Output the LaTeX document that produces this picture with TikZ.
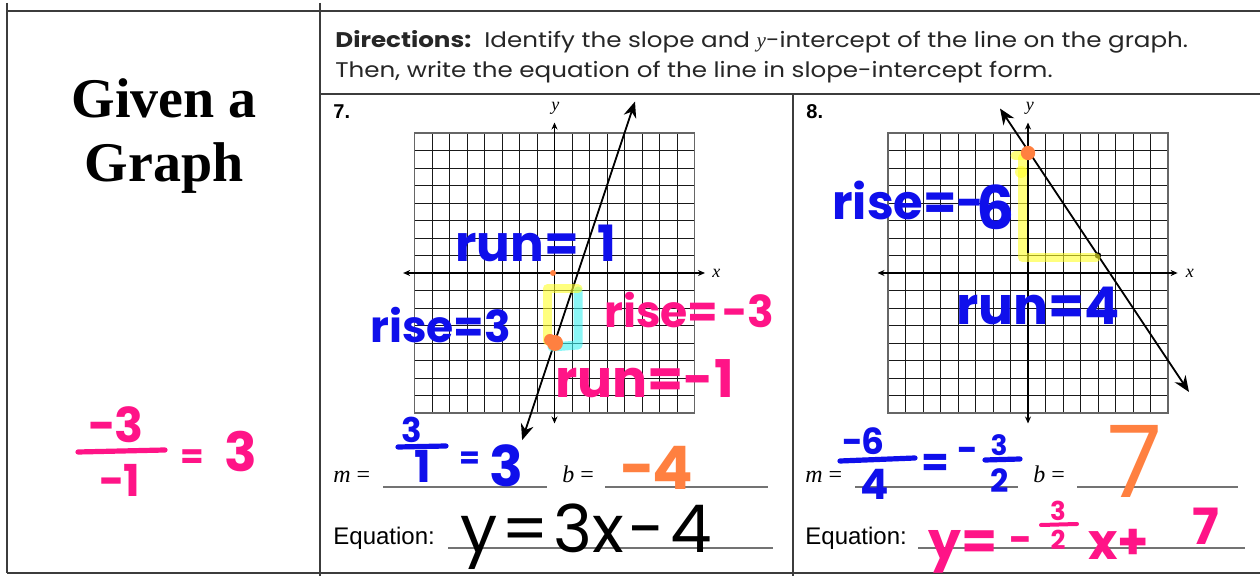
\documentclass[tikz,border=0pt]{standalone}
\usepackage{fontspec}
\setmainfont{Liberation Serif}
\newfontfamily\handf{Poppins}
\newfontfamily\dirf[FakeStretch=1.16]{Poppins}
\newfontfamily\arialf{Liberation Sans}
\newfontfamily\serf{Liberation Serif}
\usetikzlibrary{arrows.meta}
\definecolor{mblue}{RGB}{15,15,235}
\definecolor{mpink}{RGB}{255,20,135}
\definecolor{morange}{RGB}{255,128,64}
\definecolor{myellow}{RGB}{255,255,40}
\definecolor{mcyan}{RGB}{60,240,240}
\definecolor{tline}{RGB}{60,60,60}
\newcommand{\fsz}[1]{\fontsize{#1}{#1}\selectfont}
\begin{document}
\begin{tikzpicture}[x=0.5pt,y=-0.5pt,
  hb/.style={font=\handf\bfseries, inner sep=0pt, text=mblue},
  hp/.style={font=\handf\bfseries, inner sep=0pt, text=mpink},
  ho/.style={font=\handf\bfseries, inner sep=0pt, text=morange},
  hor/.style={font=\handf, inner sep=0pt, text=morange},
  hk/.style={font=\handf, inner sep=0pt, text=black},
  tb/.style={draw=tline, line width=0.8pt},
  blank/.style={draw=black!55, line width=0.6pt},
  gridl/.style={line width=0.45pt, draw=black!90},
  mk/.style={line width=2.6pt, line cap=round},
  hl/.style={line width=4.5pt, line cap=round, line join=round, opacity=0.6},
  axarr/.style={line width=0.8pt, {Stealth[length=3.5pt,width=3pt]}-{Stealth[length=3.5pt,width=3pt]}},
  linarr/.style={line width=0.9pt, {Stealth[length=8pt,width=6.5pt]}-{Stealth[length=8pt,width=6.5pt]}},
  lab/.style={inner sep=0pt, anchor=base west}]
\useasboundingbox (0,0) rectangle (1260,576);
\fill[white] (0,0) rectangle (1260,576);

% ---------- table ----------
\coordinate (tl) at (7,11); \coordinate (tr) at (1260,11);
\coordinate (bl) at (7,573); \coordinate (br) at (1260,573);
\coordinate (lt) at (7,3); \coordinate (c1t) at (320,3); \coordinate (c1b) at (320,576);
\coordinate (d1) at (320,94); \coordinate (d2) at (1260,94);
\coordinate (c2t) at (793,94); \coordinate (c2b) at (793,576);
\draw[tb] (tl) -- (tr);
\draw[tb] (bl) -- (br);
\draw[tb] (lt) -- (bl);
\draw[tb] (c1t) -- (c1b);
\draw[tb] (d1) -- (d2);
\draw[tb] (c2t) -- (c2b);

% ---------- left column ----------
\node[inner sep=0pt, anchor=base, font=\serf\bfseries\fsz{28pt}] (given) at (164,118) {Given a};
\node[inner sep=0pt, anchor=base, font=\serf\bfseries\fsz{28pt}] (graph) at (164,182) {Graph};
\node[hp, anchor=base] (lnum) at (116,443) {\fsz{24pt}−3};
\coordinate (lb1) at (78,452); \coordinate (lb2) at (165,450);
\draw[mk, mpink] (lb1) -- (lb2);
\node[hp, anchor=base] (lden) at (120,497) {\fsz{22pt}−1};
\node[hp] (leq) at (192,459) {\fsz{17pt}=};
\node[hp, anchor=base west] (lres) at (224,472) {\fsz{27pt}3};

% ---------- directions ----------
\node[lab, font=\dirf\fsz{10.6pt}, text=black!85] (dir1) at (335,48) {{\bfseries Directions:}\ \ Identify the slope and {\serf\itshape y}-intercept of the line on the graph.};
\node[lab, font=\dirf\fsz{10.6pt}, text=black!85] (dir2) at (335,78) {Then, write the equation of the line in slope-intercept form.};

\node[lab, font=\arialf\bfseries\fsz{10pt}] (n7) at (333,119) {7.};
\node[lab, font=\arialf\bfseries\fsz{10pt}] (n8) at (806,119) {8.};

% ---------- graph 7 ----------
\begin{scope}[shift={(554.5,273)}, x=8.75pt, y=8.75pt]
  \foreach \i in {-8,...,8} {
    \draw[gridl] (\i,-8) -- (\i,8);
    \draw[gridl] (-8,\i) -- (8,\i);
  }
  \draw[line width=0.9pt, draw=black!60] (-8,-8) rectangle (8,8);
  \coordinate (xa1) at (-8.65,0); \coordinate (xb1) at (8.6,0);
  \coordinate (ya1) at (0,-8.6); \coordinate (yb1) at (0,8.6);
  \draw[axarr] (xa1) -- (xb1);
  \draw[axarr] (ya1) -- (yb1);
  \node[font=\serf\itshape\fsz{9pt}, inner sep=0pt] (xl1) at (9.25,-0.05) {x};
  \node[font=\serf\itshape\fsz{9pt}, inner sep=0pt] (yl1) at (0.05,9.4) {y};
  \coordinate (la1) at (-1.85,-9.55); \coordinate (lb1g) at (4.6,9.8);
  \draw[linarr] (la1) -- (lb1g);
\end{scope}

% highlights graph 7
\coordinate (cy1) at (578,291); \coordinate (cy2) at (578,345); \coordinate (cy3) at (552,347);
\draw[hl, mcyan] (cy1) -- (cy2) -- (cy3);
\coordinate (ye1) at (578,289); \coordinate (ye2) at (547,289); \coordinate (ye3) at (547,341);
\draw[hl, myellow] (ye1) -- (ye2) -- (ye3);
\fill[morange] (555,343) circle (4pt);
\fill[morange] (550,340) circle (3pt);
\fill[morange] (553,273) circle (1.5pt);

% handwriting graph 7
\node[hb, anchor=base west] (run1) at (455,262) {\fsz{25pt}run=\kern9pt 1};
\node[hb, anchor=base west] (rise1) at (370,343) {\fsz{22pt}rise=3};
\node[hp, anchor=base west] (rise2) at (604,328) {\fsz{22pt}rise=\kern2pt-3};
\node[hp, anchor=base west] (run2) at (555,398) {\fsz{26pt}run=-1};

% answers graph 7
\node[lab, font=\serf\fsz{12pt}] (m7) at (333,483) {\textit{m} =};
\coordinate (m7a) at (383,487); \coordinate (m7b) at (547,487);
\draw[blank] (m7a) -- (m7b);
\node[lab, font=\serf\fsz{12pt}] (b7) at (562,483) {\textit{b} =};
\coordinate (b7a) at (605,487); \coordinate (b7b) at (768,487);
\draw[blank] (b7a) -- (b7b);
\node[lab, font=\arialf\fsz{12pt}] (e7) at (333,545) {Equation:};
\coordinate (e7a) at (448,548); \coordinate (e7b) at (773,548);
\draw[blank] (e7a) -- (e7b);

\node[hb, anchor=base] (f7n) at (412,443) {\fsz{17pt}3};
\coordinate (f7a) at (398,447); \coordinate (f7b) at (446,446);
\draw[mk, mblue] (f7a) -- (f7b);
\node[hb, anchor=base] (f7d) at (423,483) {\fsz{22pt}1};
\node[hb] (f7e) at (470,460) {\fsz{15pt}=};
\node[hb, anchor=base west] (f7r) at (489,487) {\fsz{28pt}3};
\node[ho, anchor=base west] (bv7) at (620,490) {\fsz{30pt}−4};
\node[hk, anchor=base west] (eq7) at (460,553) {\fsz{33pt}y\kern2pt=\kern2pt3x\kern2pt−\kern3pt4};

% ---------- graph 8 ----------
\begin{scope}[shift={(1028,273)}, x=8.75pt, y=8.75pt]
  \foreach \i in {-8,...,8} {
    \draw[gridl] (\i,-8) -- (\i,8);
    \draw[gridl] (-8,\i) -- (8,\i);
  }
  \draw[line width=0.9pt, draw=black!60] (-8,-8) rectangle (8,8);
  \coordinate (xa2) at (-8.6,0); \coordinate (xb2) at (8.55,0);
  \coordinate (ya2) at (0,-8.6); \coordinate (yb2) at (0,8.6);
  \draw[axarr] (xa2) -- (xb2);
  \draw[axarr] (ya2) -- (yb2);
  \node[font=\serf\itshape\fsz{9pt}, inner sep=0pt] (xl2) at (9.25,-0.05) {x};
  \node[font=\serf\itshape\fsz{9pt}, inner sep=0pt] (yl2) at (0.1,9.4) {y};
  \coordinate (la2) at (-1.6,9.4); \coordinate (lb2g) at (9.2,-6.8);
  \draw[linarr] (la2) -- (lb2g);
  \fill[black] (4,1) circle (1.6pt);
\end{scope}

% highlights graph 8
\coordinate (yl1) at (1022,158); \coordinate (yl2) at (1022,258); \coordinate (yl3) at (1096,258);
\draw[hl, myellow] (yl1) -- (yl2) -- (yl3);
\coordinate (yh1) at (1015,156); \coordinate (yh2) at (1024,156);
\draw[hl, myellow] (yh1) -- (yh2);
\fill[myellow, opacity=0.6] (1021,172) circle (3pt);
\fill[morange] (1028,153) circle (3.6pt);

% handwriting graph 8
\node[hb, anchor=base west] (rise8) at (832,220) {\fsz{24pt}rise=-};
\node[hb, anchor=base west] (six8) at (976,230) {\fsz{30pt}6};
\node[hb, anchor=base west] (run8) at (956,325) {\fsz{26pt}run=4};

% answers graph 8
\node[lab, font=\serf\fsz{12pt}] (m8) at (805,483) {\textit{m} =};
\coordinate (m8a) at (855,487); \coordinate (m8b) at (1018,487);
\draw[blank] (m8a) -- (m8b);
\node[lab, font=\serf\fsz{12pt}] (b8) at (1033,483) {\textit{b} =};
\coordinate (b8a) at (1077,487); \coordinate (b8b) at (1238,487);
\draw[blank] (b8a) -- (b8b);
\node[lab, font=\arialf\fsz{12pt}] (e8) at (805,545) {Equation:};
\coordinate (e8a) at (918,548); \coordinate (e8b) at (1245,548);
\draw[blank] (e8a) -- (e8b);

\node[hb, anchor=base west] (f8n) at (842,455) {\fsz{18pt}−6};
\coordinate (f8a) at (840,461); \coordinate (f8b) at (915,458);
\draw[mk, mblue] (f8a) -- (f8b);
\node[hb, anchor=base] (f8d) at (875,500) {\fsz{21pt}4};
\node[hb] (f8e) at (935,465) {\fsz{20pt}=};
\node[hb] (f8m) at (967,455) {\fsz{18pt}−};
\node[hb, anchor=base] (g8n) at (999,456) {\fsz{14pt}3};
\coordinate (g8a) at (985,460); \coordinate (g8b) at (1020,459);
\draw[mk, mblue] (g8a) -- (g8b);
\node[hb, anchor=base] (g8d) at (1000,493) {\fsz{16pt}2};
\node[hor, anchor=base west] (bv8) at (1107,498) {\fsz{50pt}7};

\node[hp, anchor=base west] (eq8a) at (928,560) {\fsz{26pt}y=};
\node[hp] (eq8m) at (1020,545) {\fsz{20pt}−};
\node[hp, anchor=base] (eq8n) at (1058,521) {\fsz{13pt}3};
\coordinate (eq8b1) at (1041,525); \coordinate (eq8b2) at (1077,524);
\draw[line width=2pt, line cap=round, mpink] (eq8b1) -- (eq8b2);
\node[hp, anchor=base] (eq8d) at (1058,550) {\fsz{13pt}2};
\node[hp, anchor=base west] (eq8x) at (1088,560) {\fsz{25pt}x+};
\node[hp, anchor=base west] (eq8s) at (1192,545) {\fsz{25pt}7};
\end{tikzpicture}
\end{document}
